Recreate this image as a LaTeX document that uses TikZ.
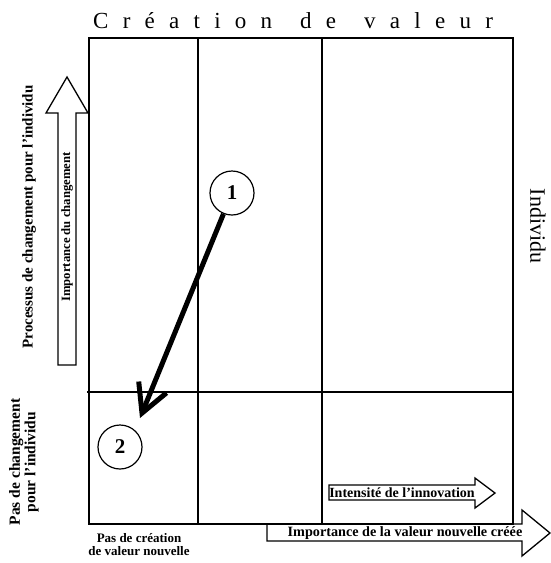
\documentclass[tikz,border=0pt]{standalone}
\usepackage{fontspec}
\setmainfont{Liberation Serif}
\usetikzlibrary{arrows.meta}
\begin{document}
\begin{tikzpicture}[x=1pt,y=-1pt,
    lbl/.style={font=\bfseries\fontsize{#1}{#1}\selectfont, inner sep=0pt},
    num/.style={circle, draw, line width=1.2pt, minimum size=44pt, inner sep=0pt,
      font=\bfseries\fontsize{21}{21}\selectfont},
    blk/.style={draw, line width=1.3pt}]
    \useasboundingbox (0,0) rectangle (551,563);
    % grille
    \draw[line width=1.4pt] (89,38) rectangle (513,524);
    \foreach \x in {198,322}
    \draw[line width=1.4pt] (\x,38) -- (\x,524);
    \draw[line width=1.2pt] (87,392) -- (513,392);
    % titres
    \node[anchor=base west, inner sep=0pt, font=\fontsize{23}{23}\selectfont\addfontfeature{LetterSpace=62}] (titre) at (93,28) {Création\hspace{8pt} de\hspace{8pt} valeur};
    \node[rotate=-90, inner sep=0pt, font=\fontsize{22}{22}\selectfont] (indiv) at (538,226) {Individu};
    % fleches larges
    \draw[blk] (58,365) -- (58,113) -- (46,113) -- (67,77) -- (88,113) -- (76,113) -- (76,365) -- cycle;
    \draw[blk] (267,524) -- (522,524) -- (522,510) -- (550,533) -- (522,556) -- (522,541) -- (267,541) -- cycle;
    \draw[blk] (329,485) -- (475,485) -- (475,478) -- (495,493) -- (475,508) -- (475,500) -- (329,500) -- cycle;
    % etiquettes
    \node[lbl=15, rotate=90] (proc) at (29,217) {Processus de changement pour l'individu};
    \node[lbl=12.7, rotate=90] (impch) at (67,227) {Importance du changement};
    \node[lbl=15.5, rotate=90, align=center] (pasch) at (24,462) {Pas de changement\\pour l'individu};
    \node[lbl=13, align=center] (pascr) at (139,545) {Pas de création\\de valeur nouvelle};
    \node[lbl=14.2] (impval) at (405,533) {Importance de la valeur nouvelle créée};
    \node[lbl=14] (intens) at (402,493) {Intensité de l'innovation};
    % trajectoire
    \node[num] (un) at (232,193) {1};
    \node[num] (deux) at (120,447) {2};
    \coordinate (pointe) at (140,418);
    \draw[line width=5pt, -{Straight Barb[length=28pt,width=30pt]}] (un) -- (pointe);
\end{tikzpicture}
\end{document}
